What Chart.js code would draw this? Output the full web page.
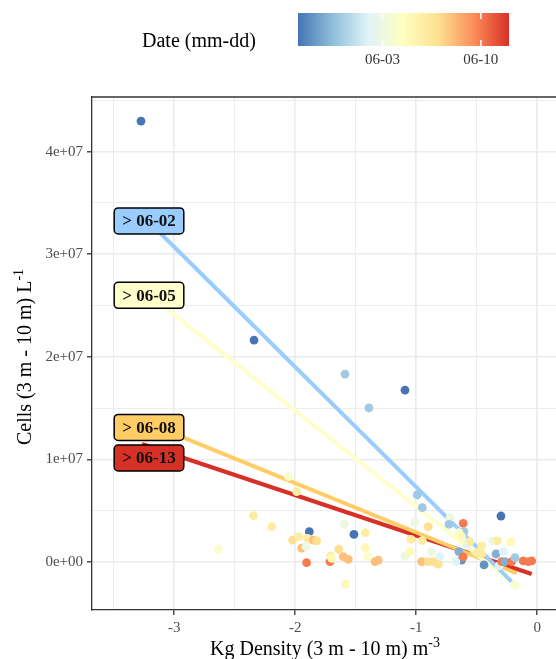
<!DOCTYPE html>
<html>
<head>
<meta charset="utf-8">
<script src="https://cdn.jsdelivr.net/npm/chart.js@4"></script>
<style>
  html, body { margin: 0; padding: 0; background: #fff; overflow: hidden; }
  #wrap { width: 556px; height: 659px; }
</style>
</head>
<body>
<div id="wrap"><canvas id="chart" width="556" height="659"></canvas></div>
<script>
// ── data ──
const density = [
  -3.275, -2.341, -1.589, -1.093, -1.391, -2.056, -1.988, -0.992, -0.950, -2.346,
  -2.194, -2.636, -1.884, -1.515, -1.595, -1.421, -2.022, -1.972, -1.898, -1.851,
  -1.823, -1.947, -1.911, -1.906, -1.713, -1.707, -1.699, -1.641, -1.603, -1.562,
  -1.584, -1.421, -1.400, -1.341, -1.314, -1.093, -1.052, -1.044, -1.011, -0.950,
  -0.901, -0.955, -0.901, -0.860, -0.818, -0.804, -0.873, -0.721, -0.730, -0.612,
  -0.606, -0.647, -0.625, -0.579, -0.556, -0.647, -0.625, -0.672, -0.612, -0.501,
  -0.460, -0.460, -0.440, -0.300, -0.369, -0.331, -0.220, -0.341, -0.281, -0.317,
  -0.294, -0.267, -0.212, -0.184, -0.116, -0.074, -0.046, -0.184
];
const cells = [
  4.298e7, 2.164e7, 1.832e7, 1.676e7, 1.502e7, 0.832e7, 0.686e7, 0.654e7, 0.530e7, 0.452e7,
  0.345e7, 0.125e7, 0.296e7, 0.271e7, 0.371e7, 0.287e7, 0.215e7, 0.248e7, 0.232e7, 0.215e7,
  0.206e7, 0.135e7, 0.150e7, -0.006e7, 0.004e7, 0.059e7, 0.037e7, 0.125e7, 0.053e7, 0.027e7,
  -0.216e7, 0.140e7, 0.053e7, 0.004e7, 0.020e7, 0.059e7, 0.101e7, 0.222e7, 0.388e7, 0.209e7,
  0.345e7, 0.004e7, 0.004e7, 0.004e7, -0.019e7, 0.053e7, 0.101e7, 0.433e7, 0.368e7, 0.378e7,
  0.296e7, 0.287e7, 0.248e7, 0.176e7, 0.199e7, 0.101e7, 0.020e7, 0.004e7, 0.050e7, 0.092e7,
  0.079e7, 0.157e7, -0.028e7, 0.449e7, 0.206e7, 0.206e7, 0.196e7, 0.079e7, 0.101e7, -0.038e7,
  0.004e7, 0.004e7, 0.004e7, 0.043e7, 0.011e7, 0.004e7, 0.011e7, -0.223e7
];
const sampleDates = [
  '05-28', '05-28', '05-31', '05-28', '05-31', '06-04', '06-06', '05-31', '05-31', '06-06',
  '06-06', '06-04', '05-28', '05-28', '06-03', '06-06', '06-07', '06-06', '06-06', '06-08',
  '06-07', '06-08', '06-03', '06-10', '06-10', '06-06', '06-05', '06-07', '06-08', '06-08',
  '06-05', '06-05', '06-04', '06-08', '06-08', '06-03', '06-05', '06-06', '06-03', '06-06',
  '06-07', '06-08', '06-07', '06-07', '06-07', '06-02', '06-03', '06-03', '05-31', '06-10',
  '05-31', '06-04', '06-05', '06-02', '06-06', '05-30', '05-29', '06-02', '06-10', '06-06',
  '06-06', '06-06', '05-29', '05-28', '06-03', '06-06', '06-05', '05-30', '06-02', '06-02',
  '06-10', '05-30', '06-10', '05-31', '06-10', '06-10', '06-10', '06-04'
];
const dateLimits = ['05-28', '06-12'];

// fitted lines (start / end)
const fitLabels = ['> 06-02', '> 06-05', '> 06-08', '> 06-13'];
const fitX0 = [-3.275, -3.275, -3.275, -3.267];
const fitY0 = [3.393e7, 2.668e7, 1.381e7, 1.151e7];
const fitX1 = [-0.212, -0.184, -0.170, -0.046];
const fitY1 = [-0.191e7, -0.223e7, -0.109e7, -0.116e7];

const xTicks = [-3, -2, -1, 0];
const yTicks = [0, 1e7, 2e7, 3e7, 4e7];
const legendTicks = ['06-03', '06-10'];

// ── styling ──
const fitColours = ['#99ccff', '#ffffcc', '#ffcc66', '#d73027'];
const labelNudge = [[8, 7], [8, 7], [8, 7], [7, 14]];
const palette = ['#4575b4', '#91bfdb', '#e0f3f8', '#ffffbf', '#fee090', '#fc8d59', '#d73027'];
const SERIF = '"Liberation Serif", "DejaVu Serif", serif';

function dayOf(s) {
  const [m, d] = s.split('-').map(Number);
  return Date.UTC(2000, m - 1, d) / 864e5;
}
const days = sampleDates.map(dayOf);
const dMin = dayOf(dateLimits[0]), dMax = dayOf(dateLimits[1]);

function hexRgb(h) {
  return [1, 3, 5].map(i => parseInt(h.slice(i, i + 2), 16));
}
const paletteRgb = palette.map(hexRgb);

function colourAt(t) {
  t = Math.max(0, Math.min(1, t));
  const p = t * (paletteRgb.length - 1);
  const i = Math.min(Math.floor(p), paletteRgb.length - 2);
  const f = p - i;
  const a = paletteRgb[i], b = paletteRgb[i + 1];
  const c = a.map((v, k) => Math.round(v + (b[k] - v) * f));
  return `rgb(${c[0]},${c[1]},${c[2]})`;
}

const pointColours = days.map(d => colourAt((d - dMin) / (dMax - dMin)));

// major ticks plus the minor ones half-way between (theme_bw grid)
function withMinors(major, lo, hi) {
  const step = major[1] - major[0];
  const out = [];
  for (let v = major[0] - step; v <= major[major.length - 1] + step + 1e-9; v += step / 2) {
    if (v >= lo && v <= hi) out.push(v);
  }
  return out;
}

const X_MIN = -3.68, X_MAX = 0.155;
const Y_MIN = -0.467e7, Y_MAX = 4.533e7;

const near = (v, list, tol) => list.some(t => Math.abs(v - t) < tol);
const isMajorX = v => near(v, xTicks, 1e-6);
const isMajorY = v => near(v, yTicks, 1);

function sci(v) {
  if (Math.abs(v) < 1) return '0e+00';
  const e = Math.floor(Math.log10(Math.abs(v)));
  const m = Math.round(v / Math.pow(10, e));
  return m + 'e+' + String(e).padStart(2, '0');
}

// ── plugins ──
const frame = {
  id: 'frame',
  afterDraw(chart) {
    const { ctx, chartArea: a } = chart;
    ctx.save();
    ctx.strokeStyle = '#333';
    ctx.lineWidth = 1.3;
    ctx.beginPath();
    ctx.moveTo(a.left, a.top);
    ctx.lineTo(a.right, a.top);
    ctx.stroke();
    ctx.restore();
  }
};

function supText(ctx, main, sup, x, y, size) {
  ctx.font = `${size}px ${SERIF}`;
  const w1 = ctx.measureText(main).width;
  ctx.font = `${Math.round(size * 0.68)}px ${SERIF}`;
  const w2 = ctx.measureText(sup).width;
  const start = x - (w1 + w2) / 2;
  ctx.textAlign = 'left';
  ctx.textBaseline = 'alphabetic';
  ctx.font = `${size}px ${SERIF}`;
  ctx.fillText(main, start, y);
  ctx.font = `${Math.round(size * 0.68)}px ${SERIF}`;
  ctx.fillText(sup, start + w1, y - size * 0.4);
}

const titles = {
  id: 'titles',
  afterDraw(chart) {
    const ctx = chart.ctx;
    ctx.save();
    ctx.fillStyle = '#000';
    supText(ctx, 'Kg Density (3 m - 10 m) m', '-3', 325, 655, 20);
    ctx.translate(31, 357);
    ctx.rotate(-Math.PI / 2);
    supText(ctx, 'Cells (3 m - 10 m) L', '-1', 0, 0, 20);
    ctx.restore();
  }
};

const colourBar = {
  id: 'colourBar',
  afterDraw(chart) {
    const ctx = chart.ctx;
    const bx = 298, by = 13, bw = 211, bh = 33;
    ctx.save();
    const g = ctx.createLinearGradient(bx, 0, bx + bw, 0);
    for (let i = 0; i <= 60; i++) g.addColorStop(i / 60, colourAt(i / 60));
    ctx.fillStyle = g;
    ctx.fillRect(bx, by, bw, bh);

    ctx.strokeStyle = '#fff';
    ctx.lineWidth = 1.5;
    ctx.fillStyle = '#333';
    ctx.font = `15px ${SERIF}`;
    ctx.textAlign = 'center';
    ctx.textBaseline = 'middle';
    legendTicks.forEach(t => {
      const x = bx + (dayOf(t) - dMin) / (dMax - dMin) * bw;
      ctx.beginPath();
      ctx.moveTo(x, by); ctx.lineTo(x, by + 6);
      ctx.moveTo(x, by + bh - 6); ctx.lineTo(x, by + bh);
      ctx.stroke();
      ctx.fillText(t, x, 60);
    });

    ctx.fillStyle = '#000';
    ctx.font = `20px ${SERIF}`;
    ctx.textAlign = 'left';
    ctx.fillText('Date (mm-dd)', 142, 42);
    ctx.restore();
  }
};

const fitTags = {
  id: 'fitTags',
  afterDatasetsDraw(chart) {
    const { ctx, scales: { x, y } } = chart;
    ctx.save();
    ctx.font = `bold 17px ${SERIF}`;
    fitLabels.forEach((txt, i) => {
      const cx = x.getPixelForValue(fitX0[i]) + labelNudge[i][0];
      const cy = y.getPixelForValue(fitY0[i]) + labelNudge[i][1];
      const w = ctx.measureText(txt).width + 16;
      const h = 26;
      ctx.beginPath();
      ctx.roundRect(cx - w / 2, cy - h / 2, w, h, 4);
      ctx.fillStyle = fitColours[i];
      ctx.fill();
      ctx.lineWidth = 1.5;
      ctx.strokeStyle = '#000';
      ctx.stroke();
      ctx.fillStyle = '#111';
      ctx.textAlign = 'center';
      ctx.textBaseline = 'middle';
      ctx.fillText(txt, cx, cy + 1);
    });
    ctx.restore();
  }
};

// ── chart ──
const lineSets = fitLabels.map((lab, i) => ({
  label: lab,
  data: [{ x: fitX0[i], y: fitY0[i] }, { x: fitX1[i], y: fitY1[i] }],
  showLine: true,
  borderColor: fitColours[i],
  borderWidth: 4,
  pointRadius: 0,
  order: 2,
}));

const xGrid = withMinors(xTicks, X_MIN, X_MAX);
const yGrid = withMinors(yTicks, Y_MIN, Y_MAX);

new Chart(document.getElementById('chart'), {
  type: 'scatter',
  data: {
    datasets: [
      {
        label: 'samples',
        data: density.map((d, i) => ({ x: d, y: cells[i] })),
        backgroundColor: pointColours,
        borderWidth: 0,
        pointRadius: 4.4,
        order: 1,
      },
      ...lineSets,
    ],
  },
  options: {
    responsive: false,
    animation: false,
    layout: { autoPadding: false, padding: { top: 97, left: 0, right: 0, bottom: 0 } },
    plugins: { legend: { display: false }, tooltip: { enabled: false } },
    scales: {
      x: {
        type: 'linear',
        min: X_MIN,
        max: X_MAX,
        afterBuildTicks: s => { s.ticks = xGrid.map(v => ({ value: v })); },
        afterFit: s => { s.height = 49; },
        border: { display: true, color: '#333', width: 1.3 },
        grid: {
          color: '#ebebeb',
          lineWidth: c => isMajorX(c.tick.value) ? 1.6 : 0.9,
          tickLength: 5,
          tickWidth: 1.3,
          tickColor: c => isMajorX(c.tick.value) ? '#333' : 'rgba(0,0,0,0)',
        },
        ticks: {
          autoSkip: false,
          maxRotation: 0,
          padding: 4,
          color: '#4d4d4d',
          font: { family: SERIF, size: 15 },
          callback: v => isMajorX(v) ? String(Math.round(v)) : '',
        },
      },
      y: {
        type: 'linear',
        min: Y_MIN,
        max: Y_MAX,
        afterBuildTicks: s => { s.ticks = yGrid.map(v => ({ value: v })); },
        afterFit: s => { s.width = 92; },
        border: { display: true, color: '#333', width: 1.3 },
        grid: {
          color: '#ebebeb',
          lineWidth: c => isMajorY(c.tick.value) ? 1.6 : 0.9,
          tickLength: 5,
          tickWidth: 1.3,
          tickColor: c => isMajorY(c.tick.value) ? '#333' : 'rgba(0,0,0,0)',
        },
        ticks: {
          autoSkip: false,
          padding: 4,
          color: '#4d4d4d',
          font: { family: SERIF, size: 15 },
          callback: v => isMajorY(v) ? sci(v) : '',
        },
      },
    },
  },
  plugins: [frame, titles, colourBar, fitTags],
});
</script>
</body>
</html>
